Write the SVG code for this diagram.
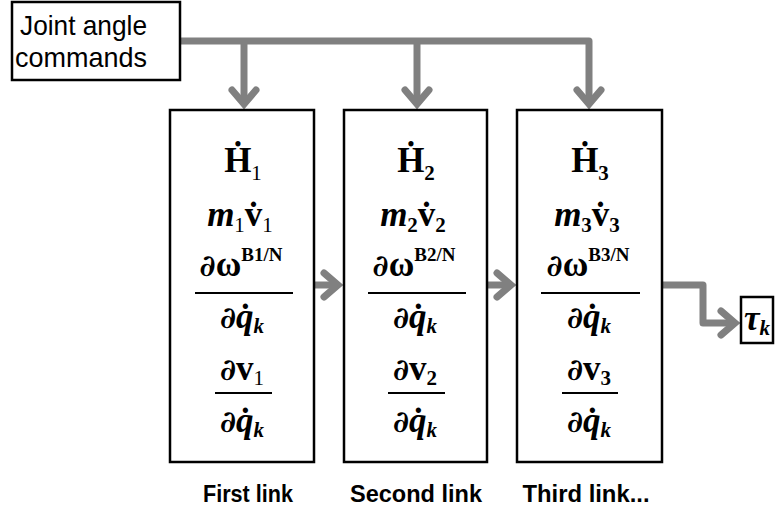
<svg xmlns="http://www.w3.org/2000/svg" width="775" height="521" viewBox="0 0 775 521">
<defs>
<style>
.box{fill:#fff;stroke:#000;stroke-width:2.5}
.conn{fill:none;stroke:#808080;stroke-width:7;stroke-linejoin:round}
.lbl{font-family:"Liberation Sans",Arial,sans-serif;fill:#000}
.m{font-family:"Liberation Serif","DejaVu Serif",serif;font-weight:bold;font-size:35px;fill:#000;text-anchor:middle}
.d{font-family:"DejaVu Serif",serif;font-style:italic;font-weight:bold;font-size:30px}
.it{font-style:italic}
.sub{font-size:21px}
.sup{font-size:19px}
.frac{stroke:#000;stroke-width:2}
</style>
<marker id="chev" markerUnits="userSpaceOnUse" viewBox="-20 -20 30 40" refX="0" refY="0" markerWidth="30" markerHeight="40" orient="auto" overflow="visible">
<path d="M-14,-12 L0,0 L-14,12" fill="none" stroke="#808080" stroke-width="7" stroke-linejoin="miter" stroke-linecap="round"/>
</marker>
</defs>
<rect width="775" height="521" fill="#fff"/>

<g id="connectors">
<path class="conn" d="M178,41 H589 V104" marker-end="url(#chev)"/>
<path class="conn" d="M244,41 V104" marker-end="url(#chev)"/>
<path class="conn" d="M417,41 V104" marker-end="url(#chev)"/>
<path class="conn" d="M314,285 H338" marker-end="url(#chev)"/>
<path class="conn" d="M487,285 H511" marker-end="url(#chev)"/>
<path class="conn" d="M662,285 H703 V323 H735" marker-end="url(#chev)"/>
</g>

<g id="joint-angle-commands">
<rect class="box" x="12" y="2" width="168" height="78" stroke-width="2"/>
<text class="lbl" x="20" y="35" font-size="28" textLength="127" lengthAdjust="spacingAndGlyphs">Joint angle</text>
<text class="lbl" x="15" y="67" font-size="28" textLength="132" lengthAdjust="spacingAndGlyphs">commands</text>
</g>

<g id="link1">
<rect class="box" x="170" y="110" width="144" height="352"/>
<text class="m" x="243" y="172">Ḣ<tspan class="sub" font-weight="normal" dy="8">1</tspan></text>
<text class="m" x="240" y="226"><tspan class="it">m</tspan><tspan class="sub" font-weight="normal" dy="6">1</tspan><tspan dy="-6">v̇</tspan><tspan class="sub" font-weight="normal" dy="6">1</tspan></text>
<text class="m" x="241" y="276"><tspan class="d">∂</tspan>ω<tspan class="sup" dy="-15">B1/N</tspan></text>
<line class="frac" x1="195" y1="293" x2="293" y2="293"/>
<text class="m it" x="242" y="328"><tspan class="d">∂</tspan>q̇<tspan class="sub" dy="5">k</tspan></text>
<text class="m" x="242" y="380"><tspan class="d">∂</tspan>v<tspan class="sub" font-weight="normal" dy="5">1</tspan></text>
<line class="frac" x1="215" y1="393" x2="272" y2="393"/>
<text class="m it" x="242" y="432"><tspan class="d">∂</tspan>q̇<tspan class="sub" dy="5">k</tspan></text>
<text class="lbl" x="248" y="502" font-size="23" font-weight="bold" text-anchor="middle" textLength="90" lengthAdjust="spacingAndGlyphs">First link</text>
</g>

<g id="link2">
<rect class="box" x="344" y="110" width="143" height="352"/>
<text class="m" x="416" y="172">Ḣ<tspan class="sub" dy="8">2</tspan></text>
<text class="m" x="413" y="226"><tspan class="it">m</tspan><tspan class="sub" dy="6">2</tspan><tspan dy="-6">v̇</tspan><tspan class="sub" dy="6">2</tspan></text>
<text class="m" x="414" y="276"><tspan class="d">∂</tspan>ω<tspan class="sup" dy="-15">B2/N</tspan></text>
<line class="frac" x1="368" y1="293" x2="466" y2="293"/>
<text class="m it" x="415" y="328"><tspan class="d">∂</tspan>q̇<tspan class="sub" dy="5">k</tspan></text>
<text class="m" x="415" y="380"><tspan class="d">∂</tspan>v<tspan class="sub" dy="5">2</tspan></text>
<line class="frac" x1="388" y1="393" x2="445" y2="393"/>
<text class="m it" x="415" y="432"><tspan class="d">∂</tspan>q̇<tspan class="sub" dy="5">k</tspan></text>
<text class="lbl" x="416" y="502" font-size="23" font-weight="bold" text-anchor="middle" textLength="132" lengthAdjust="spacingAndGlyphs">Second link</text>
</g>

<g id="link3">
<rect class="box" x="517" y="110" width="145" height="352"/>
<text class="m" x="590" y="172">Ḣ<tspan class="sub" dy="8">3</tspan></text>
<text class="m" x="587" y="226"><tspan class="it">m</tspan><tspan class="sub" dy="6">3</tspan><tspan dy="-6">v̇</tspan><tspan class="sub" dy="6">3</tspan></text>
<text class="m" x="588" y="276"><tspan class="d">∂</tspan>ω<tspan class="sup" dy="-15">B3/N</tspan></text>
<line class="frac" x1="541" y1="293" x2="640" y2="293"/>
<text class="m it" x="589" y="328"><tspan class="d">∂</tspan>q̇<tspan class="sub" dy="5">k</tspan></text>
<text class="m" x="589" y="380"><tspan class="d">∂</tspan>v<tspan class="sub" dy="5">3</tspan></text>
<line class="frac" x1="562" y1="393" x2="618" y2="393"/>
<text class="m it" x="589" y="432"><tspan class="d">∂</tspan>q̇<tspan class="sub" dy="5">k</tspan></text>
<text class="lbl" x="586" y="502" font-size="23" font-weight="bold" text-anchor="middle" textLength="127" lengthAdjust="spacingAndGlyphs">Third link...</text>
</g>

<g id="tau">
<rect class="box" x="741" y="297" width="32" height="46" stroke-width="2"/>
<text class="m it" x="757" y="330" font-size="33">τ<tspan class="sub" dy="5">k</tspan></text>
</g>
</svg>
